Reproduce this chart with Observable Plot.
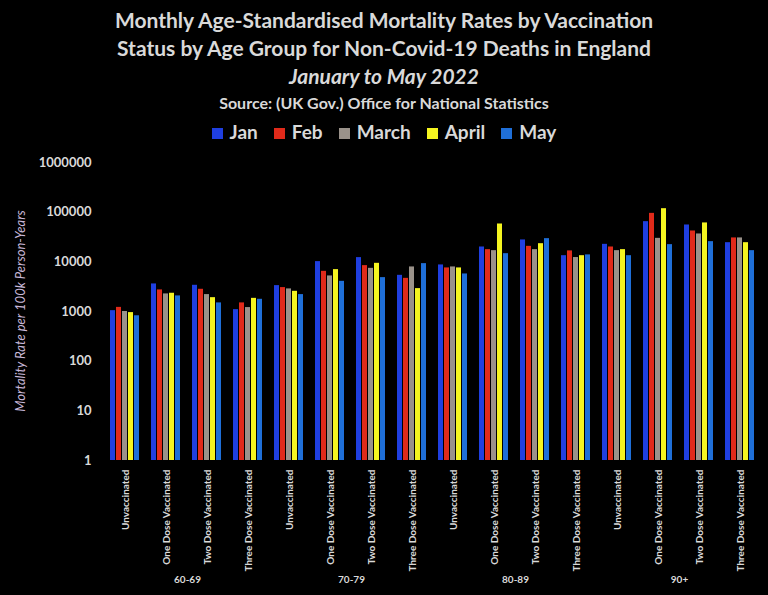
<!DOCTYPE html>
<html><head><meta charset="utf-8">
<script src="https://cdn.jsdelivr.net/npm/d3@7"></script>
<script src="https://cdn.jsdelivr.net/npm/@observablehq/plot@0.6"></script>
<style>
body{margin:0;background:#000;width:768px;height:595px;overflow:hidden;font-family:Lato,"Open Sans",sans-serif;color:#d9d9d9;position:relative}
#head{height:150px;text-align:center;font-weight:bold}
.t{font-size:21px;line-height:28px}
.s{font-size:16px;line-height:22px;margin-top:2px}
#leg{font-size:19px;margin-top:6px;display:flex;justify-content:center;gap:16px}
#leg span i{display:inline-block;width:11px;height:11px;margin-right:7px}
#ylab{position:absolute;left:20px;top:311px;transform:translate(-50%,-50%) rotate(-90deg);white-space:nowrap;font-style:italic;font-size:13px;color:#c8b8d8}
</style></head><body>
<div id="head" style="padding-top:6px;box-sizing:border-box">
<div class="t">Monthly Age-Standardised Mortality Rates by Vaccination<br>Status by Age Group for Non-Covid-19 Deaths in England<br><i>January to May 2022</i></div>
<div class="s">Source: (UK Gov.) Office for National Statistics</div>
<div id="leg"></div>
</div>
<div id="chart"></div>
<div id="ylab">Mortality Rate per 100k Person-Years</div>
<script>
const months=["Jan","Feb","March","April","May"];
const colors=["#1f3fe0","#e02a1a","#9a928a","#f5f520","#1f6fd8"];
const ageGroups=["60-69","70-79","80-89","90+"];
const statuses=["Unvaccinated","One Dose Vaccinated","Two Dose Vaccinated","Three Dose Vaccinated"];
// values[age][status] = [Jan,Feb,March,April,May]
const values=[
 [[1040,1210,1000,950,820],[3590,2720,2260,2330,2060],[3370,2800,2190,1900,1490],[1090,1490,1200,1840,1760]],
 [[3320,3030,2850,2550,2190],[10100,6440,5200,6970,4050],[12160,8390,7400,9330,4810],[5350,4650,7890,2890,9200]],
 [[8660,7540,7890,7540,5700],[19900,17600,16800,57800,14600],[27600,20500,17600,23200,29300],[13300,16600,12200,13300,13800]],
 [[22500,19900,16800,17600,13300],[64400,94600,29700,117500,22200],[55200,41800,36400,60700,25500],[24300,30300,30300,24300,16800]]
];
const yTicks=[1,10,100,1000,10000,100000,1000000];
const data=[];const keys=[];
ageGroups.forEach((a,i)=>statuses.forEach((s,j)=>{const k=a+"|"+s;keys.push(k);
 months.forEach((m,l)=>data.push({key:k,month:m,value:values[i][j][l]}));}));
document.getElementById("leg").innerHTML=months.map((m,i)=>`<span><i style="background:${colors[i]}"></i>${m}</span>`).join("");
const ageLabels=ageGroups.map(a=>({key:a+"|"+statuses[1],label:a}));
const chart=Plot.plot({
 width:768,height:445,marginTop:12,marginBottom:135,marginLeft:100,marginRight:3,
 style:{background:"#000",color:"#d9d9d9",fontFamily:"Lato, sans-serif"},
 fx:{domain:keys,padding:0.16,label:null,tickFormat:d=>d.split("|")[1],tickRotate:-90,tickSize:0,fontSize:10},
 x:{domain:months,padding:0.12,axis:null},
 y:{type:"log",domain:[1,1000000],axis:null},
 color:{domain:months,range:colors},
 marks:[
  Plot.barY(data,{fx:"key",x:"month",y1:1,y2:"value",fill:"month"}),
  Plot.text(ageLabels,{fx:"key",text:"label",frameAnchor:"bottom",dx:21,dy:122,fill:"#d9d9d9",fontSize:10,fontWeight:"bold"}),
  Plot.axisY({ticks:yTicks,tickFormat:d=>String(d),tickSize:0,fontSize:13,fontWeight:"bold",dx:-8,label:null})
 ]
});
chart.querySelectorAll('[aria-label="fx-axis tick label"] text').forEach(t=>t.setAttribute("font-weight","bold"));
document.getElementById("chart").appendChild(chart);
</script></body></html>
